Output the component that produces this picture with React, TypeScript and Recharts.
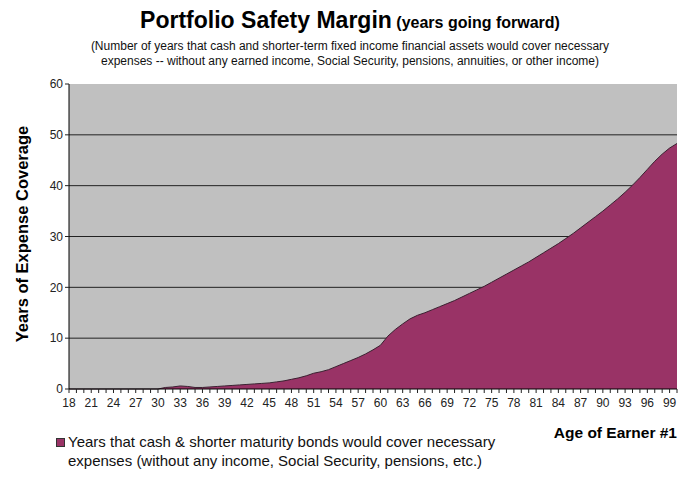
import React from 'react';
import { AreaChart, Area, XAxis, YAxis, CartesianGrid } from 'recharts';

// ages of earner #1 (category axis)
const ages = [
  18, 19, 20, 21, 22, 23, 24, 25, 26, 27, 28, 29, 30, 31, 32, 33, 34, 35, 36, 37, 38,
  39, 40, 41, 42, 43, 44, 45, 46, 47, 48, 49, 50, 51, 52, 53, 54, 55, 56, 57, 58, 59,
  60, 61, 62, 63, 64, 65, 66, 67, 68, 69, 70, 71, 72, 73, 74, 75, 76, 77, 78, 79, 80,
  81, 82, 83, 84, 85, 86, 87, 88, 89, 90, 91, 92, 93, 94, 95, 96, 97, 98, 99, 100,
];

// years of expense coverage
const coverageYears = [
  0, 0, 0, 0, 0, 0, 0, 0, 0, 0, 0, 0, 0, 0.3, 0.4, 0.6, 0.5, 0.3, 0.3, 0.4, 0.5,
  0.6, 0.7, 0.8, 0.9, 1.0, 1.1, 1.2, 1.4, 1.6, 1.9, 2.2, 2.6, 3.1, 3.4, 3.8, 4.4, 5.0, 5.6, 6.2, 6.9, 7.7,
  8.6, 10.4, 11.7, 12.8, 13.8, 14.5, 15.0, 15.6, 16.2, 16.8, 17.4, 18.1, 18.8, 19.5, 20.2, 21.0, 21.8, 22.6, 23.4, 24.2, 25.0,
  25.9, 26.8, 27.7, 28.6, 29.6, 30.6, 31.7, 32.8, 33.9, 35.0, 36.2, 37.4, 38.7, 40.1, 41.6, 43.2, 44.8, 46.2, 47.4, 48.3,
];

const yTicks = [0, 10, 20, 30, 40, 50, 60];
const gridValues = [10, 20, 30, 40, 50];

const FONT = "Arial, 'Liberation Sans', sans-serif";

const chartData = ages.map((age, i) => ({ age, years: coverageYears[i] }));

// every age gets a tick mark, only every third one a label
const AgeTick = (props: any) => {
  const { x, y, payload } = props;
  if ((payload.value - 18) % 3 !== 0) return <g />;
  return (
    <text x={x} y={y} dy={12} textAnchor="middle" fontSize={12} fill="#222" fontFamily={FONT}>
      {payload.value}
    </text>
  );
};

const App: React.FC = () => {
  return (
    <div
      style={{
        position: 'relative',
        width: 700,
        height: 484,
        margin: -8,
        background: '#fff',
        fontFamily: FONT,
        color: '#000',
        overflow: 'hidden',
      }}
    >
      <div style={{ position: 'absolute', top: 7, left: 0, width: 700, textAlign: 'center', whiteSpace: 'nowrap' }}>
        <span style={{ fontSize: 23, fontWeight: 'bold' }}>Portfolio Safety Margin</span>
        <span style={{ fontSize: 16, fontWeight: 'bold' }}> (years going forward)</span>
      </div>
      <div
        style={{
          position: 'absolute',
          top: 39,
          left: 0,
          width: 700,
          textAlign: 'center',
          fontSize: 12,
          lineHeight: '15px',
          color: '#111',
        }}
      >
        (Number of years that cash and shorter-term fixed income financial assets would cover necessary
        <br />
        expenses -- without any earned income, Social Security, pensions, annuities, or other income)
      </div>

      <div style={{ position: 'absolute', left: 0, top: 0 }}>
        <AreaChart
          width={700}
          height={484}
          data={chartData}
          margin={{ top: 84, right: 23, left: 29, bottom: 65 }}
        >
          <CartesianGrid
            vertical={false}
            horizontalValues={gridValues}
            stroke="#222"
            fill="#c0c0c0"
            fillOpacity={1}
          />
          <XAxis
            dataKey="age"
            interval={0}
            height={30}
            tick={<AgeTick />}
            tickLine={{ stroke: '#222' }}
            tickSize={4}
            axisLine={{ stroke: '#000' }}
          />
          <YAxis
            domain={[0, 60]}
            ticks={yTicks}
            width={40}
            interval={0}
            tick={{ fontSize: 12, fill: '#222', fontFamily: FONT }}
            tickLine={{ stroke: '#222' }}
            tickSize={4}
            axisLine={{ stroke: '#000' }}
          />
          <Area
            type="linear"
            dataKey="years"
            stroke="#3a2030"
            strokeWidth={1}
            fill="#993366"
            fillOpacity={1}
            isAnimationActive={false}
            dot={false}
            activeDot={false}
          />
        </AreaChart>
      </div>

      <div
        style={{
          position: 'absolute',
          left: 22,
          top: 234,
          transform: 'translate(-50%, -50%) rotate(-90deg)',
          fontSize: 16.5,
          fontWeight: 'bold',
          whiteSpace: 'nowrap',
        }}
      >
        Years of Expense Coverage
      </div>

      <div
        style={{
          position: 'absolute',
          right: 23,
          top: 424,
          fontSize: 15.5,
          fontWeight: 'bold',
          whiteSpace: 'nowrap',
        }}
      >
        Age of Earner #1
      </div>

      <div
        style={{
          position: 'absolute',
          left: 56,
          top: 438,
          width: 9,
          height: 9,
          background: '#993366',
          border: '1px solid #333',
          boxSizing: 'border-box',
        }}
      />
      <div
        style={{
          position: 'absolute',
          left: 68,
          top: 432,
          fontSize: 15,
          lineHeight: '19px',
          whiteSpace: 'nowrap',
          color: '#111',
        }}
      >
        Years that cash &amp; shorter maturity bonds would cover necessary
        <br />
        expenses (without any income, Social Security, pensions, etc.)
      </div>
    </div>
  );
};

export default App;
